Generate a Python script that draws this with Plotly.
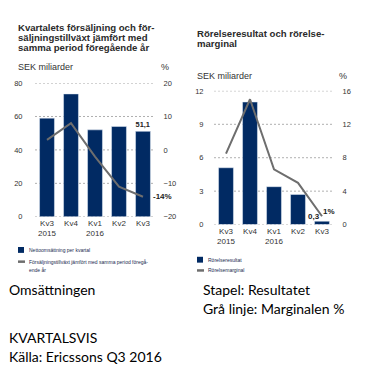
import plotly.graph_objects as go

# ---------------- data ----------------
quarters = ["Kv3<br>2015", "Kv4", "Kv1<br>2016", "Kv2", "Kv3"]
sales = [59.0, 73.5, 52.0, 54.0, 51.1]            # SEK miljarder
sales_growth = [3, 8, -2, -11, -14]               # %
op_income = [5.1, 11.0, 3.4, 2.7, 0.3]            # SEK miljarder
op_margin = [8.5, 15.0, 6.6, 5.0, 1.0]            # %

left_ticks = [0, 20, 40, 60, 80]
left_ticks_pct = [-20, -10, 0, 10, 20]
right_ticks = [0, 3, 6, 9, 12]
right_ticks_pct = [0, 4, 8, 12, 16]

title_left = ["Kvartalets försäljning och för-",
              "säljningstillväxt jämfört med",
              "samma period föregående år"]
title_right = ["Rörelseresultat och rörelse-", "marginal"]
unit_label = "SEK miliarder"
legend_left = ["Nettoomsättning per kvartal",
               "Försäljningstillväxt jämfört med samma period föregå-",
               "ende år"]
legend_right = ["Rörelseresultat", "Rörelsemarginal"]
notes = ["Omsättningen", "Stapel: Resultatet", "Grå linje: Marginalen %",
         "KVARTALSVIS", "Källa: Ericssons Q3 2016"]

# ---------------- style ----------------
W, H = 385, 375
NAVY = "#012a63"
GREY = "#6e6e6e"
GRID = "#b0b0b0"
FONT = "Liberation Sans, Arial, sans-serif"
NOTE_FONT = "Lato, Carlito, sans-serif"

def px(x):
    return x / W

def py(y):
    return 1 - y / H

fig = go.Figure()

# left chart
fig.add_trace(go.Bar(x=quarters, y=sales, marker_color=NAVY, width=0.62,
                     xaxis="x", yaxis="y",
                     text=["", "", "", "", f"{sales[-1]:.1f}".replace(".", ",")],
                     textposition="outside", cliponaxis=False,
                     textfont=dict(size=8, color="#222", family=FONT, weight="bold"),
                     showlegend=False))
fig.add_trace(go.Scatter(x=quarters, y=sales_growth, mode="lines",
                         line=dict(color=GREY, width=2),
                         xaxis="x", yaxis="y2", showlegend=False))
# right chart
fig.add_trace(go.Bar(x=quarters, y=op_income, marker_color=NAVY, width=0.62,
                     xaxis="x3", yaxis="y3", showlegend=False))
fig.add_trace(go.Scatter(x=quarters, y=op_margin, mode="lines",
                         line=dict(color=GREY, width=2),
                         xaxis="x3", yaxis="y4", showlegend=False))

ystyle = dict(showgrid=False, zeroline=False, showline=False, ticks="outside",
              tickcolor="rgba(0,0,0,0)",
              tickfont=dict(size=7.5, color="#333", family=FONT), fixedrange=True)
xstyle = dict(showgrid=False, zeroline=False, showline=False, ticks="",
              tickfont=dict(size=8, color="#333", family=FONT), fixedrange=True,
              range=[-0.5, 4.5])

fig.update_layout(
    width=W, height=H, margin=dict(l=0, r=0, t=0, b=0),
    paper_bgcolor="white", plot_bgcolor="white", bargap=0.38,
    xaxis=dict(domain=[px(35), px(155)], anchor="y", **xstyle),
    yaxis=dict(domain=[py(218), py(81)], range=[0, 80.01], tickvals=left_ticks,
               ticklen=10, anchor="x", **ystyle),
    yaxis2=dict(overlaying="y", side="right", range=[-20, 20.01], tickvals=left_ticks_pct,
                anchor="x", ticklen=6, **ystyle),
    xaxis3=dict(domain=[px(214), px(334)], anchor="y3", **xstyle),
    yaxis3=dict(domain=[py(226), py(89)], range=[0, 12.002], tickvals=right_ticks,
                ticklen=8, anchor="x3", **ystyle),
    yaxis4=dict(overlaying="y3", side="right", range=[0, 16.003], tickvals=right_ticks_pct,
                anchor="x3", ticklen=6, **ystyle),
)

# dotted gridlines at the left-axis tick values
shapes = []
for v in left_ticks:
    shapes.append(dict(type="line", xref="x domain", yref="y", x0=0, x1=1, y0=v, y1=v,
                       layer="below", line=dict(color=GRID, width=1, dash="2px,2px")))
for v in right_ticks:
    shapes.append(dict(type="line", xref="x3 domain", yref="y3", x0=0, x1=1, y0=v, y1=v,
                       layer="below", line=dict(color=GRID, width=1, dash="2px,2px")))

ann = []
def text(x, y, s, size, color="#222", bold=False, font=FONT, xanchor="left", yanchor="middle"):
    ann.append(dict(x=px(x), y=py(y), xref="paper", yref="paper", text=s, showarrow=False,
                    xanchor=xanchor, yanchor=yanchor,
                    font=dict(size=size, color=color, family=font,
                              weight="bold" if bold else "normal")))

for i, line in enumerate(title_left):
    text(16, 24 + i * 10.3, line, 9.6, color="#2a2a2a", bold=True)
for i, line in enumerate(title_right):
    text(195, 30 + i * 10.3, line, 9.6, color="#2a2a2a", bold=True)

text(16, 65, unit_label, 9, color="#333")
text(159, 65, "%", 9, color="#333")
text(195, 74, unit_label, 9, color="#333")
text(337, 74, "%", 9, color="#333")

# value labels tied to the data
ann.append(dict(x=quarters[-1], y=sales_growth[-1], xref="x", yref="y2",
                text=f"{sales_growth[-1]}%", showarrow=False, xshift=19,
                font=dict(size=8, color="#222", family=FONT, weight="bold")))
ann.append(dict(x=quarters[-1], y=op_income[-1], xref="x3", yref="y3",
                text=f"{op_income[-1]:.1f}".replace(".", ","), showarrow=False,
                xshift=-8, yanchor="bottom", yshift=-2,
                font=dict(size=8, color="#222", family=FONT, weight="bold")))
ann.append(dict(x=quarters[-1], y=op_margin[-1], xref="x3", yref="y4",
                text=f"{op_margin[-1]:.0f}%", showarrow=False,
                xshift=7, yanchor="bottom", yshift=-2,
                font=dict(size=8, color="#222", family=FONT, weight="bold")))

# legend keys
shapes += [
    dict(type="rect", xref="paper", yref="paper", x0=px(18), x1=px(24), y0=py(255), y1=py(249),
         fillcolor=NAVY, line=dict(width=0)),
    dict(type="line", xref="paper", yref="paper", x0=px(18), x1=px(25), y0=py(264), y1=py(264),
         line=dict(color=GREY, width=2.5)),
    dict(type="rect", xref="paper", yref="paper", x0=px(197), x1=px(203), y0=py(265), y1=py(259),
         fillcolor=NAVY, line=dict(width=0)),
    dict(type="line", xref="paper", yref="paper", x0=px(197), x1=px(204), y0=py(273), y1=py(273),
         line=dict(color=GREY, width=2.5)),
]
text(27, 252, legend_left[0], 5, color="#1a2a50")
text(27, 264, legend_left[1], 5, color="#1a2a50")
text(27, 273, legend_left[2], 5, color="#1a2a50")
text(206, 262, legend_right[0], 5, color="#1a2a50")
text(206, 273, legend_right[1], 5, color="#1a2a50")

# notes below
text(7, 293, notes[0], 14, color="#000", font=NOTE_FONT)
text(201, 293, notes[1], 14, color="#000", font=NOTE_FONT)
text(201, 312, notes[2], 14, color="#000", font=NOTE_FONT)
text(7, 342, notes[3], 14, color="#000", font=NOTE_FONT)
text(7, 361, notes[4], 14, color="#000", font=NOTE_FONT)

fig.update_layout(annotations=ann, shapes=shapes)
fig.write_html("out.html", config={"displayModeBar": False},
               post_script="document.body.style.margin='0';document.body.style.overflow='hidden';")
